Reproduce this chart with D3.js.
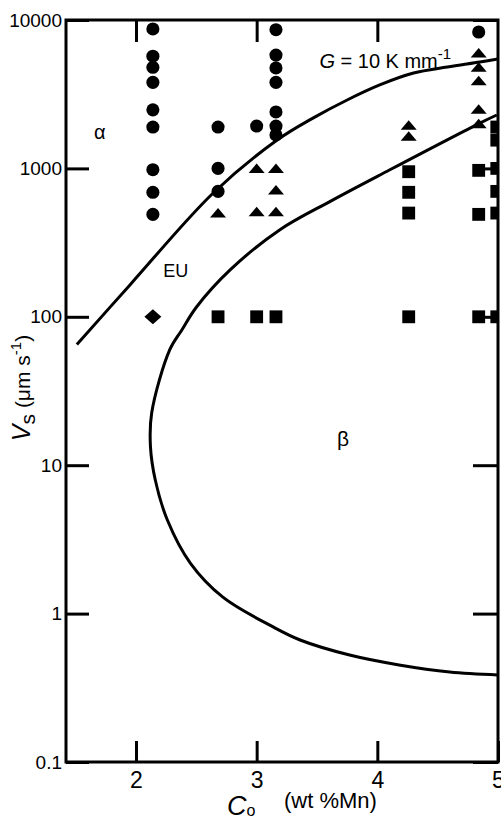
<!DOCTYPE html>
<html>
<head>
<meta charset="utf-8">
<script src="https://cdn.jsdelivr.net/npm/d3@7/dist/d3.min.js"></script>
<style>
  body { margin: 0; background: #fff; }
  svg { display: block; }
  text { font-family: "Liberation Sans", Arial, sans-serif; fill: #000; }
</style>
</head>
<body>
<svg id="chart"></svg>
<script>
// Co (wt % Mn) vs growth velocity Vs (um/s), points as [Co, Vs]
const circlePts = [
  [2.14, 8700], [2.14, 5700], [2.14, 4800], [2.14, 3800], [2.14, 2480], [2.14, 1900],
  [2.14, 980], [2.14, 690], [2.14, 490],
  [2.68, 1900], [2.68, 1000], [2.68, 700],
  [3.0, 1930],
  [3.16, 8600], [3.16, 5800], [3.16, 4750], [3.16, 3800], [3.16, 2400], [3.16, 1930], [3.16, 1680],
  [4.84, 8300]
];
const trianglePts = [
  [2.68, 500],
  [3.0, 1000], [3.0, 510],
  [3.16, 1000], [3.16, 715], [3.16, 510],
  [4.26, 1950], [4.26, 1650],
  [4.84, 6000], [4.84, 4800], [4.84, 3900], [4.84, 2500], [4.84, 2000]
];
const squarePts = [
  [2.68, 100], [3.0, 100], [3.16, 100],
  [4.26, 950], [4.26, 690], [4.26, 500], [4.26, 100],
  [4.84, 970], [4.84, 490], [4.84, 100],
  [4.99, 1900], [4.99, 1550], [4.99, 1000], [4.99, 700], [4.99, 500], [4.99, 100]
];
const diamondPts = [[2.14, 100]];

// boundary curves
const gCurve = [
  [1.51, 65], [1.95, 164], [2.64, 683], [3.17, 1553], [3.47, 2190], [3.75, 2890],
  [4.02, 3650], [4.3, 4390], [4.58, 4820], [4.85, 5210], [5.0, 5460]
];
const betaCurve = [
  [4.99, 2290], [4.85, 2020], [4.1, 975], [3.61, 600], [3.19, 385], [2.78, 207],
  [2.5, 116], [2.38, 81.5], [2.28, 60], [2.13, 22.5], [2.12, 13.3], [2.16, 7.95],
  [2.26, 4.27], [2.45, 2.19], [2.72, 1.29], [3.14, 0.81], [3.36, 0.664],
  [3.77, 0.526], [4.18, 0.451], [4.6, 0.404], [5.0, 0.386]
];

const xTicks = [2, 3, 4, 5];
const yTicks = [0.1, 1, 10, 100, 1000, 10000];
const yTickLabels = ["0.1", "1", "10", "100", "1000", "10000"];

const config = {
  containerWidth: 501,
  containerHeight: 821,
  margin: { top: 20, right: 3, bottom: 59, left: 66 }
};
const width = config.containerWidth - config.margin.left - config.margin.right;
const height = config.containerHeight - config.margin.top - config.margin.bottom;

const svg = d3.select("#chart")
  .attr("width", config.containerWidth)
  .attr("height", config.containerHeight);

const g = svg.append("g")
  .attr("transform", `translate(${config.margin.left},${config.margin.top})`);

const x = d3.scaleLinear().domain([1.42, 5]).range([0, width]);
const y = d3.scaleLog().domain([0.1, 10000]).range([height, 0]);

g.append("clipPath").attr("id", "plot-clip")
  .append("rect").attr("width", width).attr("height", height);

// axes with inward ticks
function styleAxis(sel, fontSize) {
  sel.select(".domain").remove();
  sel.selectAll(".tick line").attr("stroke", "#000").attr("stroke-width", 3);
  sel.selectAll(".tick text")
    .style("font-size", fontSize + "px")
    .attr("fill", "#000");
}

g.append("g")
  .call(d3.axisLeft(y).tickValues(yTicks).tickSize(-23).tickPadding(4)
    .tickFormat((d, i) => yTickLabels[i]))
  .call(s => styleAxis(s, 19));

g.append("g")
  .attr("transform", `translate(${width},0)`)
  .call(d3.axisRight(y).tickValues(yTicks).tickSize(-25).tickFormat(""))
  .call(s => styleAxis(s, 19));

g.append("g")
  .attr("transform", `translate(0,${height})`)
  .call(d3.axisBottom(x).tickValues(xTicks).tickSize(-21).tickPadding(10)
    .tickFormat(d3.format("d")))
  .call(s => styleAxis(s, 23));

g.append("g")
  .call(d3.axisTop(x).tickValues(xTicks.slice(0, 3)).tickSize(-22).tickFormat(""))
  .call(s => styleAxis(s, 19));

// frame
g.append("rect")
  .attr("width", width)
  .attr("height", height)
  .attr("fill", "none")
  .attr("stroke", "#000")
  .attr("stroke-width", 3);

const plot = g.append("g").attr("clip-path", "url(#plot-clip)");

const line = d3.line()
  .x(d => x(d[0]))
  .y(d => y(d[1]))
  .curve(d3.curveCatmullRom.alpha(0.5));

plot.selectAll(".boundary")
  .data([gCurve, betaCurve])
  .join("path")
  .attr("class", "boundary")
  .attr("d", line)
  .attr("fill", "none")
  .attr("stroke", "#000")
  .attr("stroke-width", 3);

// markers
const triPath = "M-8,4.5L0,-5L8,4.5Z";
const diaPath = "M-8.5,0L0,-7.5L8.5,0L0,7.5Z";

plot.selectAll(".circle")
  .data(circlePts)
  .join("path")
  .attr("class", "circle")
  .attr("d", d3.symbol().type(d3.symbolCircle).size(135))
  .attr("transform", d => `translate(${x(d[0])},${y(d[1])})`);

plot.selectAll(".tri")
  .data(trianglePts)
  .join("path")
  .attr("class", "tri")
  .attr("d", triPath)
  .attr("transform", d => `translate(${x(d[0])},${y(d[1])})`);

plot.selectAll(".sq")
  .data(squarePts)
  .join("path")
  .attr("class", "sq")
  .attr("d", d3.symbol().type(d3.symbolSquare).size(165))
  .attr("transform", d => `translate(${x(d[0])},${y(d[1])})`);

plot.selectAll(".dia")
  .data(diamondPts)
  .join("path")
  .attr("class", "dia")
  .attr("d", diaPath)
  .attr("transform", d => `translate(${x(d[0])},${y(d[1])})`);

// region labels
g.append("text")
  .attr("x", x(1.70)).attr("y", y(1760)).attr("dy", "0.35em")
  .attr("text-anchor", "middle")
  .style("font-size", "20px")
  .text("α");

g.append("text")
  .attr("x", x(2.33)).attr("y", y(205)).attr("dy", "0.35em")
  .attr("text-anchor", "middle")
  .style("font-size", "18px")
  .text("EU");

g.append("text")
  .attr("x", x(3.715)).attr("y", y(15.2)).attr("dy", "0.35em")
  .attr("text-anchor", "middle")
  .style("font-size", "21px")
  .text("β");

const gLabel = g.append("text")
  .attr("x", x(3.52)).attr("y", y(4750))
  .style("font-size", "20px");
gLabel.append("tspan").style("font-style", "italic").text("G");
gLabel.append("tspan").text(" = 10 K  mm");
gLabel.append("tspan").attr("dy", -9).style("font-size", "15px").text("-1");

// axis titles
const yTitle = svg.append("text")
  .attr("transform", "translate(30,388) rotate(-90)")
  .attr("text-anchor", "middle")
  .style("font-size", "21px");
yTitle.append("tspan").style("font-style", "italic").style("font-size", "25px").text("V");
yTitle.append("tspan").attr("dy", 5).text("s");
yTitle.append("tspan").attr("dy", -5).text(" (μm s");
yTitle.append("tspan").attr("dy", -9).style("font-size", "15px").text("-1");
yTitle.append("tspan").attr("dy", 9).text(")");

const xTitle = svg.append("text")
  .attr("x", 227).attr("y", 815)
  .style("font-size", "27px");
xTitle.append("tspan").style("font-style", "italic").text("C");
xTitle.append("tspan").attr("dy", 1).style("font-size", "16px").text("o");

svg.append("text")
  .attr("x", 284).attr("y", 808)
  .style("font-size", "22px")
  .text("(wt %Mn)");
</script>
</body>
</html>
